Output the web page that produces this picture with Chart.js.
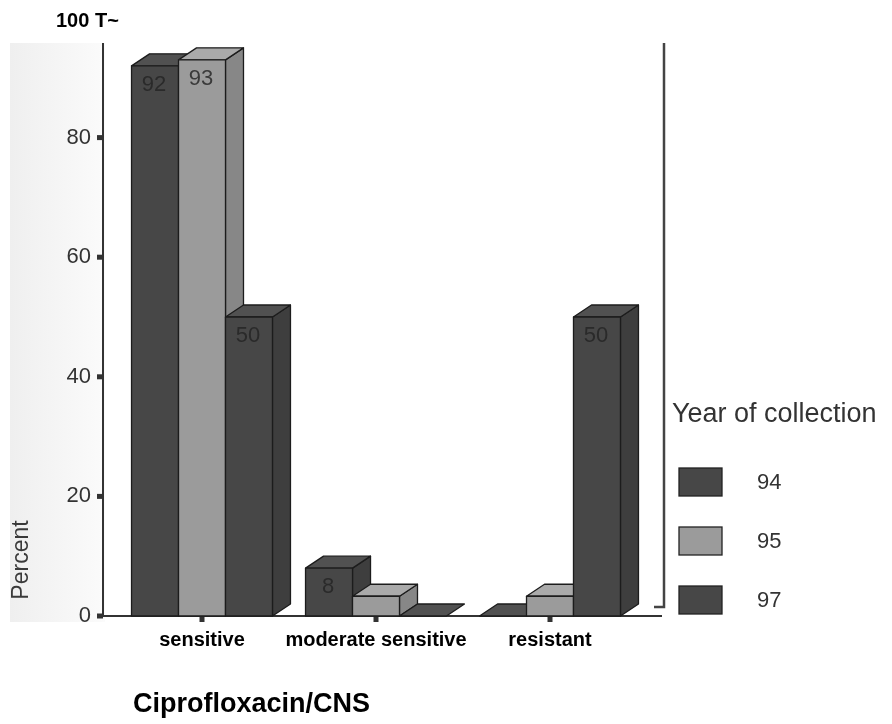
<!DOCTYPE html>
<html>
<head>
<meta charset="utf-8">
<script src="https://cdn.jsdelivr.net/npm/chart.js@4.4.1/dist/chart.umd.min.js"></script>
<style>
  html, body { margin: 0; padding: 0; background: #ffffff; }
  #wrap { width: 892px; height: 724px; position: relative; }
</style>
</head>
<body>
<div id="wrap"><canvas id="c" width="892" height="724"></canvas></div>
<script>
// Susceptibility categories and the share of isolates per collection year
const categories = ['sensitive', 'moderate sensitive', 'resistant'];
const years = ['94', '95', '97'];
const pct94 = [92, 8, 0];
const pct95 = [93, 3.3, 3.3];
const pct97 = [50, 0, 50];
const yTicks = [0, 20, 40, 60, 80];
const topTickText = '100 T~';
const axisTitle = 'Percent';
const legendTitle = 'Year of collection';
const chartTitle = 'Ciprofloxacin/CNS';

const FONT = '"Liberation Sans", Arial, Helvetica, sans-serif';

// face shades for each series: front, top, side
const shades = [
  { front: '#474747', top: '#515151', side: '#3e3e3e' },
  { front: '#9b9b9b', top: '#aaaaaa', side: '#878787' },
  { front: '#474747', top: '#515151', side: '#3e3e3e' }
];

// depth of the extruded bars
const DX = 18, DY = 12;

function poly(ctx, pts, fill) {
  ctx.beginPath();
  ctx.moveTo(pts[0][0], pts[0][1]);
  for (let i = 1; i < pts.length; i++) ctx.lineTo(pts[i][0], pts[i][1]);
  ctx.closePath();
  ctx.fillStyle = fill;
  ctx.fill();
  ctx.stroke();
}

const boxes3d = {
  id: 'boxes3d',
  beforeDraw(chart) {
    const { ctx, chartArea: a } = chart;
    // faint tint of the printed panel left of the axis
    ctx.save();
    const g = ctx.createLinearGradient(10, 0, a.left - 10, 0);
    g.addColorStop(0, '#efefef');
    g.addColorStop(1, '#fbfbfb');
    ctx.fillStyle = g;
    ctx.fillRect(10, a.top + 25, a.left - 20, a.bottom - a.top - 19);
    ctx.restore();
  },
  beforeDatasetsDraw(chart) {
    const { ctx, chartArea: a, scales } = chart;
    const xs = scales.x, ys = scales.y;
    const axisX = a.left - 12;
    const frameTop = a.top + 25;
    const rightX = a.right + 27;
    const base = ys.getPixelForValue(0);

    ctx.save();
    ctx.strokeStyle = '#333333';
    ctx.lineWidth = 2;
    // value axis and baseline
    ctx.beginPath();
    ctx.moveTo(axisX, frameTop);
    ctx.lineTo(axisX, base);
    ctx.lineTo(rightX - 2, base);
    ctx.stroke();
    // right-hand frame
    ctx.strokeStyle = '#444444';
    ctx.lineWidth = 2.5;
    ctx.beginPath();
    ctx.moveTo(rightX, frameTop);
    ctx.lineTo(rightX, base - 9);
    ctx.lineTo(rightX - 10, base - 9);
    ctx.stroke();
    // tick marks
    ctx.fillStyle = '#333333';
    yTicks.forEach(v => {
      const py = ys.getPixelForValue(v);
      ctx.fillRect(axisX - 6, py - 2.5, 6, 5);
    });
    categories.forEach((c, i) => {
      const px = xs.getPixelForValue(i);
      ctx.fillRect(px - 2.5, base, 5, 6);
    });

    // extruded bars, series by series, left to right within each group
    ctx.strokeStyle = '#1c1c1c';
    ctx.lineWidth = 1.3;
    ctx.lineJoin = 'round';
    chart.data.datasets.forEach((ds, di) => {
      const meta = chart.getDatasetMeta(di);
      const sh = shades[di];
      meta.data.forEach((el, i) => {
        const p = el.getProps(['x', 'y', 'base', 'width'], true);
        const l = p.x - p.width / 2, r = p.x + p.width / 2;
        const t = p.y, b = p.base;
        if (b - t > 0.5) {
          poly(ctx, [[r, b], [r, t], [r + DX, t - DY], [r + DX, b - DY]], sh.side);
        }
        poly(ctx, [[l, t], [r, t], [r + DX, t - DY], [l + DX, t - DY]], sh.top);
        if (b - t > 0.5) {
          poly(ctx, [[l, t], [r, t], [r, b], [l, b]], sh.front);
        }
        const v = ds.data[i];
        if (v >= 5) {
          ctx.save();
          ctx.fillStyle = di === 1 ? '#3a3a3a' : '#2a2a2a';
          ctx.font = '22px ' + FONT;
          ctx.textAlign = 'center';
          ctx.textBaseline = 'middle';
          ctx.fillText(String(v), p.x - 1, t + 19);
          ctx.restore();
        }
      });
    });
    ctx.restore();
    return false;
  },
  afterDraw(chart) {
    const { ctx, chartArea: a } = chart;
    ctx.save();
    // top tick caption
    ctx.fillStyle = '#000000';
    ctx.font = 'bold 20px ' + FONT;
    ctx.textAlign = 'left';
    ctx.textBaseline = 'middle';
    ctx.fillText(topTickText, 56, a.top + 3);

    // rotated axis title
    ctx.save();
    ctx.translate(22, a.bottom - 56);
    ctx.rotate(-Math.PI / 2);
    ctx.fillStyle = '#3a3a3a';
    ctx.font = '23px ' + FONT;
    ctx.textAlign = 'center';
    ctx.textBaseline = 'middle';
    ctx.fillText(axisTitle, 0, 0);
    ctx.restore();

    // legend
    const lx = a.right + 35;
    ctx.fillStyle = '#333333';
    ctx.font = '27px ' + FONT;
    ctx.textAlign = 'left';
    ctx.textBaseline = 'middle';
    ctx.fillText(legendTitle, lx, 415);
    chart.data.datasets.forEach((ds, di) => {
      const by = 468 + di * 59;
      ctx.fillStyle = shades[di].front;
      ctx.strokeStyle = '#222222';
      ctx.lineWidth = 1.3;
      ctx.fillRect(lx + 7, by, 43, 28);
      ctx.strokeRect(lx + 7, by, 43, 28);
      ctx.fillStyle = '#333333';
      ctx.font = '22px ' + FONT;
      ctx.fillText(ds.label, lx + 85, by + 15);
    });

    // chart caption
    ctx.fillStyle = '#000000';
    ctx.font = 'bold 27px ' + FONT;
    ctx.fillText(chartTitle, 133, 705);
    ctx.restore();
  }
};

const ctx = document.getElementById('c').getContext('2d');
new Chart(ctx, {
  type: 'bar',
  data: {
    labels: categories,
    datasets: [
      { label: years[0], data: pct94, backgroundColor: shades[0].front },
      { label: years[1], data: pct95, backgroundColor: shades[1].front },
      { label: years[2], data: pct97, backgroundColor: shades[2].front }
    ]
  },
  options: {
    responsive: false,
    animation: false,
    devicePixelRatio: 1,
    layout: { padding: { left: 0, top: 18, right: 255, bottom: 68 } },
    datasets: { bar: { categoryPercentage: 0.81, barPercentage: 1 } },
    plugins: { legend: { display: false }, tooltip: { enabled: false }, title: { display: false } },
    scales: {
      x: {
        grid: { display: false, drawTicks: false },
        border: { display: false },
        ticks: { color: '#000000', font: { family: FONT, size: 20, weight: 'bold' }, padding: 12, maxRotation: 0, autoSkip: false },
        afterFit(s) { s.height = 40; s.paddingLeft = 0; s.paddingRight = 0; }
      },
      y: {
        min: 0,
        max: 100,
        grid: { display: false, drawTicks: false },
        border: { display: false },
        ticks: {
          stepSize: 20,
          color: '#333333',
          font: { family: FONT, size: 22 },
          padding: 24,
          callback: v => (yTicks.includes(v) ? String(v) : '')
        },
        afterFit(s) { s.width = 115; s.paddingTop = 0; s.paddingBottom = 0; }
      }
    }
  },
  plugins: [boxes3d]
});
</script>
</body>
</html>
